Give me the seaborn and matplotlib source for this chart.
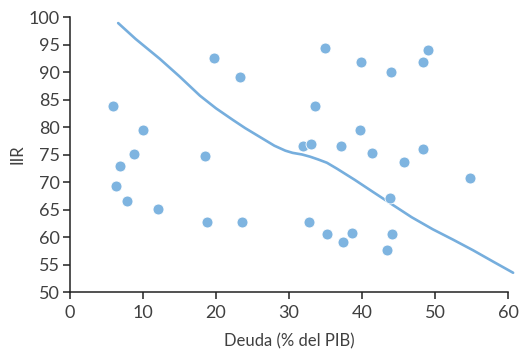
import matplotlib
matplotlib.use("Agg")
import matplotlib.pyplot as plt
import seaborn as sns
import pandas as pd

# Country observations: debt (% of GDP) vs IIR
deuda = [5.9, 10.0, 8.8, 6.8, 6.3, 7.8, 12.1, 18.8, 23.6, 18.5, 19.7, 23.3,
         34.9, 39.9, 44.0, 48.4, 49.0, 33.6, 39.7, 31.9, 33.0, 37.1, 41.4,
         45.8, 48.4, 54.8, 43.8, 32.7, 35.2, 37.4, 38.7, 44.1, 43.4]
iir = [83.8, 79.5, 75.1, 72.9, 69.3, 66.5, 65.1, 62.7, 62.7, 74.7, 92.5, 89.1,
       94.4, 91.8, 90.0, 91.8, 94.0, 83.8, 79.5, 76.6, 76.9, 76.6, 75.3,
       73.6, 76.0, 70.7, 67.1, 62.7, 60.5, 59.1, 60.8, 60.5, 57.6]

# Fitted relationship
curva_x = [6.6, 9.0, 12.3, 15.0, 17.8, 20.0, 22.3, 24.0, 26.0, 28.0, 29.5,
           30.5, 31.8, 32.9, 34.0, 35.2, 36.6, 39.0, 41.5, 43.8, 46.8,
           49.7, 52.5, 55.2, 58.0, 60.7]
curva_y = [98.9, 96.0, 92.4, 89.2, 85.7, 83.4, 81.3, 79.8, 78.2, 76.6, 75.7,
           75.3, 75.0, 74.6, 74.1, 73.5, 72.4, 70.4, 68.2, 66.2, 63.6,
           61.4, 59.5, 57.6, 55.5, 53.5]

x_ticks = [0, 10, 20, 30, 40, 50, 60]
y_ticks = [50, 55, 60, 65, 70, 75, 80, 85, 90, 95, 100]

sns.set_theme(style="white")
plt.rcParams["font.family"] = ["Lato", "DejaVu Sans"]

azul = "#7EB4E0"
txt = "#404040"

fig = plt.figure(figsize=(5.23, 3.53), dpi=100)
ax = fig.add_axes([0.1338, 0.1728, 0.8375, 0.779])

puntos = pd.DataFrame({"Deuda": deuda, "IIR": iir})
curva = pd.DataFrame({"x": curva_x, "y": curva_y})

sns.lineplot(data=curva, x="x", y="y", ax=ax, color="#76AEDD", linewidth=1.9,
             sort=False, zorder=2)
sns.scatterplot(data=puntos, x="Deuda", y="IIR", ax=ax, color=azul, s=62,
                edgecolor="white", linewidth=0.6, zorder=3)

ax.set_xlim(0, 60)
ax.set_ylim(50, 100)
ax.set_xticks(x_ticks)
ax.set_yticks(y_ticks)
ax.set_xticklabels([str(t) for t in x_ticks])
ax.set_yticklabels([str(t) for t in y_ticks])
for ln in ax.lines:
    ln.set_clip_on(False)

for side in ["top", "right"]:
    ax.spines[side].set_visible(False)
for side in ["left", "bottom"]:
    ax.spines[side].set_color("#222222")
    ax.spines[side].set_linewidth(1.1)

ax.tick_params(axis="both", direction="out", length=5, width=1.1,
               colors="#222222", labelcolor=txt, labelsize=13, pad=2.5)
ax.tick_params(axis="x", bottom=True, pad=4)
ax.tick_params(axis="y", left=True)

ax.set_xlabel("Deuda (% del PIB)", fontsize=12, color=txt, labelpad=9)
ax.set_ylabel("IIR", fontsize=12, color=txt, labelpad=2)

fig.savefig("out.png", dpi=100)
